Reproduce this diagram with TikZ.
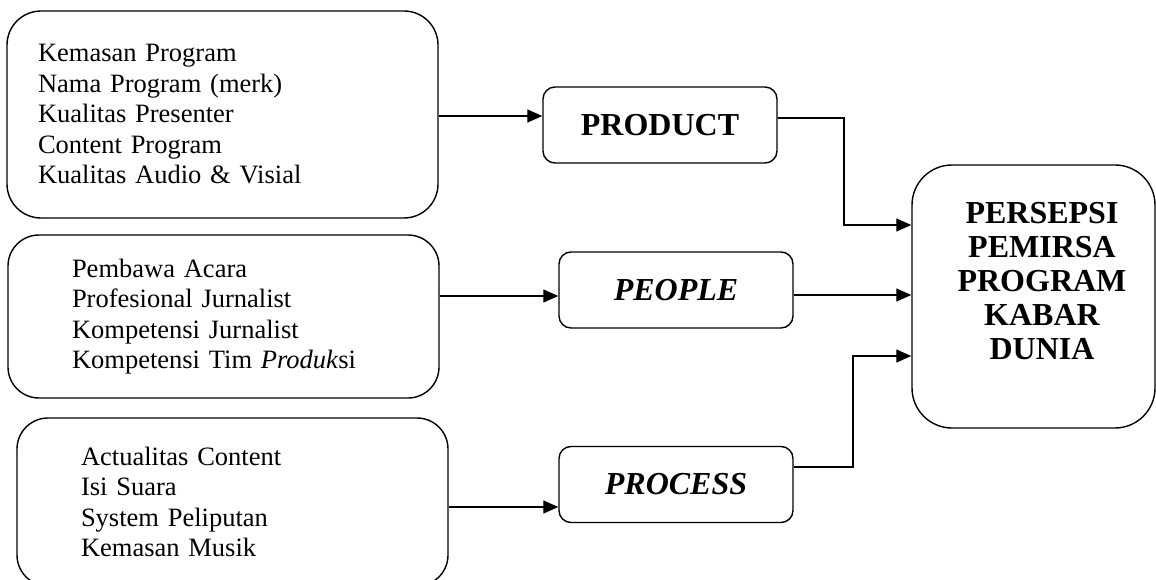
\documentclass[tikz,border=0pt]{standalone}
\usepackage{fontspec}
\setmainfont{Liberation Serif}
\usetikzlibrary{arrows.meta}

\newcommand\itemfont{\fontsize{26.5}{30.5}\selectfont}
\newcommand\headfont{\fontsize{32}{34}\selectfont\bfseries}

\begin{document}
\begin{tikzpicture}[
    x=1pt, y=-1pt,
    factor/.style={
      % The shape:
      rectangle,
      rounded corners=31pt,
      % The size:
      minimum width=431pt,
      inner xsep=64pt,
      text width=303pt,
      % The border:
      draw=black,
      line width=1.4pt,
      % Font
      font=\itemfont,
      align=left,
    },
    aspect/.style={
      rectangle,
      rounded corners=12pt,
      minimum width=234pt,
      minimum height=76pt,
      draw=black,
      line width=1.4pt,
    },
    link/.style={
      -{Triangle[length=15pt, width=13pt]},
      line width=1.3pt,
    }]

    \useasboundingbox (0,0) rectangle (1156,580);

    % the three lists on the left
    \node[factor, minimum height=207pt, inner xsep=31pt, text width=369pt,
          rounded corners=34pt] (packaging) at (222.5,114.5)
          {Kemasan Program\\ Nama Program (merk)\\ Kualitas Presenter\\
           Content Program\\ Kualitas Audio \& Visial};
    \node[factor, minimum height=163pt] (crew) at (223.5,316.5)
          {Pembawa Acara\\ Profesional Jurnalist\\ Kompetensi Jurnalist\\
           Kompetensi Tim \textit{Produk}si};
    \node[factor, minimum height=168pt] (coverage) at (232.5,502)
          {Actualitas Content\\ Isi Suara\\ System Peliputan\\ Kemasan Musik};

    % the three aspects in the middle
    \node[aspect] (product) at (660,125) {\headfont PRODUCT};
    \node[aspect] (people) at (676,290) {\headfont\itshape PEOPLE};
    \node[aspect] (process) at (676,484.5) {\headfont\itshape PROCESS};

    % the result on the right
    \node[rectangle, rounded corners=40pt, draw=black, line width=1.4pt,
          minimum width=243pt, minimum height=263pt] (persepsi) at (1033.5,296.5) {};
    \node[align=center, font=\headfont] (persepsitext) at (1042,281.5)
          {PERSEPSI\\ PEMIRSA\\ PROGRAM\\ KABAR\\ DUNIA};

    \draw[link] (packaging.east |- 0,116) -- (product.west |- 0,116);
    \draw[link] (crew.east |- 0,296) -- (people.west |- 0,296);
    \draw[link] (coverage.east |- 0,507) -- (process.west |- 0,507);

    \draw[link] (product.east |- 0,118) -| (844,225) -- (persepsi.west |- 0,225);
    \draw[link] (people.east |- 0,295) -- (persepsi.west |- 0,295);
    \draw[link] (process.east |- 0,467) -| (853,356) -- (persepsi.west |- 0,356);
  \end{tikzpicture}
\end{document}
